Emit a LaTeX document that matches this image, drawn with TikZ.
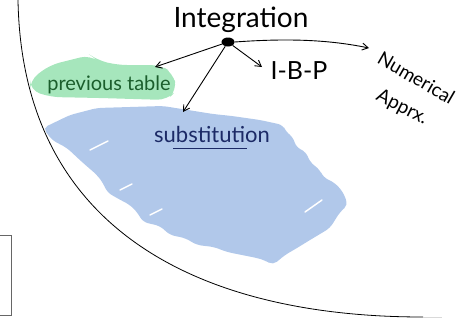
\documentclass[tikz,border=0pt]{standalone}
\usepackage{fontspec}
\setmainfont{Lato}
\usetikzlibrary{arrows.meta,shapes.geometric}
\definecolor{blobgreen}{HTML}{A6E6BC}
\definecolor{blobblue}{HTML}{B1C8EA}
\definecolor{txtgreen}{HTML}{1B5E2C}
\definecolor{txtblue}{HTML}{1C2A66}
\tikzset{
  pen/.style={draw=black, line width=0.9pt},
  conn/.style={pen, -{Straight Barb[length=6pt,width=7pt]}},
  hand/.style={inner sep=1pt},
  gap/.style={white, line width=1.5pt, line cap=round},
}
\begin{document}
\begin{tikzpicture}[x=1pt,y=-1pt]
\useasboundingbox (0,0) rectangle (474,322);
% blue blob
\fill[blobblue, rounded corners=5pt] (43,128) -- (70,115) -- (97,108) -- (163,106) -- (213,114) -- (232,116) -- (260,120) -- (283,125) -- (286,132) -- (293,137) -- (296,147) -- (306,152) -- (310,162) -- (320,170) -- (323,177) -- (335,183) -- (343,192) -- (348,205) -- (340,212) -- (330,228) -- (310,240) -- (297,248) -- (285,255) -- (273,265) -- (264,260) -- (257,258) -- (242,255) -- (227,252) -- (214,247) -- (197,245) -- (185,238) -- (170,235) -- (160,226) -- (143,222) -- (137,212) -- (130,205) -- (115,197) -- (107,192) -- (103,183) -- (97,175) -- (82,162) -- (67,148) -- (52,140) -- cycle;
\draw[gap] (90,150) -- (108,141);
\draw[gap] (120,190) -- (132,184);
\draw[gap] (305,212) -- (322,200);
\draw[gap] (150,215) -- (162,209);
% green blob
\fill[blobgreen, rounded corners=10pt] (30,80) -- (50,65) -- (90,55) -- (97,60) -- (117,65) -- (160,65) -- (173,73) -- (177,90) -- (167,100) -- (100,98) -- (50,97) -- (30,90) -- cycle;
% big arc
\draw[pen, line width=0.8pt] (18,0) .. controls (22,230) and (200,317) .. (423,317);
\draw[gray!30, line width=0.8pt] (423,317) -- (442,317);
% left box
\draw[gray!80!black, line width=0.7pt] (-1,235) rectangle (11,315);
% texts
\node[hand, font=\fontsize{28}{28}\selectfont] (integ) at (241,20) {Integration};
\node[fill=black, ellipse, minimum width=13pt, minimum height=9pt, inner sep=0pt] (dot) at (228,42) {};
\node[hand, text=txtgreen, font=\fontsize{20}{20}\selectfont] (prev) at (109,85) {previous table};
\node[hand, text=txtblue, font=\fontsize{22}{22}\selectfont] (subst) at (212,134) {substitution};
\draw[txtblue, line width=1pt] (173,148) -- (247,148);
\node[hand, font=\fontsize{25}{25}\selectfont] (ibp) at (299,71) {I-B-P};
\node[hand, rotate=-30, anchor=base west, font=\fontsize{19}{19}\selectfont] (num) at (375,62) {Numerical};
\node[hand, rotate=-27, anchor=base west, font=\fontsize{19}{19}\selectfont] (appr) at (374,99) {Apprx.};
% connectors
\coordinate (prevtip) at (155,67);
\coordinate (substip) at (183,112);
\coordinate (ibptip) at (262,67);
\coordinate (numtip) at (369,48);
\draw[conn] (dot) -- (prevtip);
\draw[conn] (dot) -- (substip);
\draw[conn] (dot) -- (ibptip);
\draw[conn] (dot.east) .. controls (290,38) and (330,40) .. (numtip);
\end{tikzpicture}
\end{document}
